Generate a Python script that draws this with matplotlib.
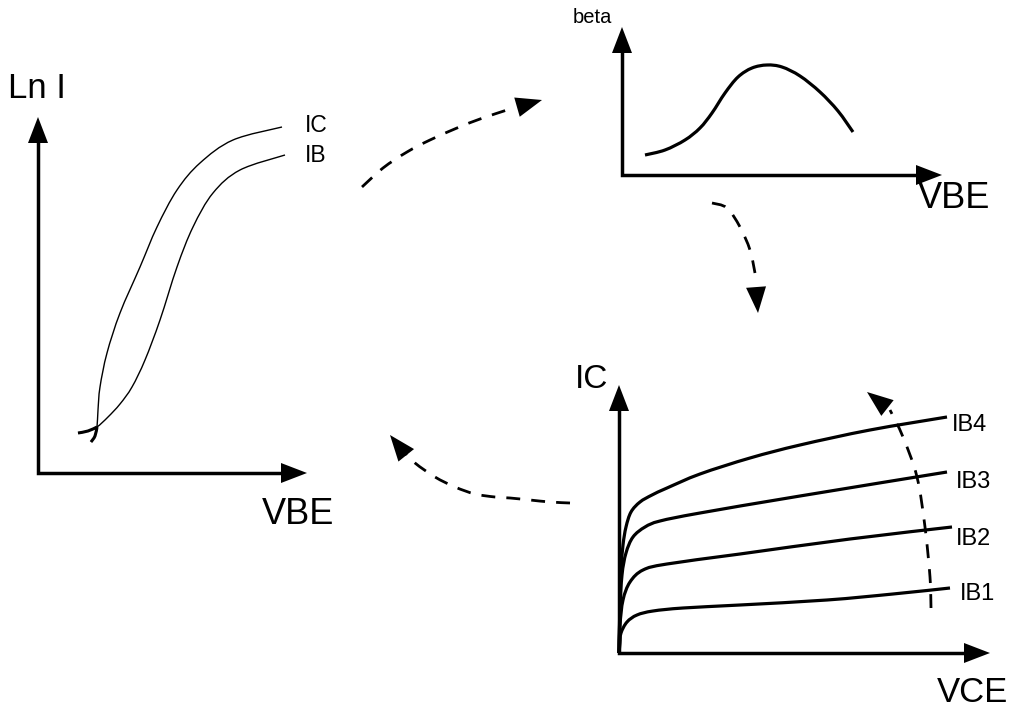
import matplotlib.pyplot as plt
import numpy as np
from matplotlib.path import Path
from matplotlib.patches import PathPatch, Polygon

# --- DATA (picture pixel coordinates, y grows downwards) ---
# left panel: Ln I vs VBE
LN_IC_X = [91, 95, 97, 98, 100, 107, 120, 140, 157, 177, 200, 233, 282]
LN_IC_Y = [442, 436, 427, 410, 387, 353, 313, 267, 227, 190, 163, 140, 127]
LN_IB_X = [78, 88, 97, 108, 120, 132, 145, 160, 177, 193, 213, 240, 285]
LN_IB_Y = [433, 431, 427, 417, 404, 387, 360, 320, 267, 227, 193, 170, 155]

# top-right panel: beta vs VBE
BETA_X = [645, 665, 685, 700, 712, 725, 738, 752, 767, 782, 800, 820, 838, 853]
BETA_Y = [155, 150, 140, 128, 113, 93, 77, 68, 65, 67, 76, 92, 111, 132]

# bottom-right panel: IC vs VCE, one curve per base current
VCE_X = {
    "IB1": [619, 620, 621, 627, 637, 653, 683, 740, 827, 893, 950],
    "IB2": [619, 620, 623, 630, 643, 667, 740, 850, 952],
    "IB3": [619, 620, 622, 626, 633, 645, 660, 700, 800, 947],
    "IB4": [619, 620, 621, 623, 626, 631, 640, 652, 667, 700, 750, 800, 870,
            947],
}
VCE_Y = {
    "IB1": [653, 643, 633, 622, 615, 611, 608, 605, 600, 594, 588],
    "IB2": [653, 625, 600, 582, 570, 564, 554, 539, 527],
    "IB3": [653, 610, 575, 553, 537, 527, 521, 513, 496, 472],
    "IB4": [653, 600, 570, 545, 527, 512, 502, 495, 488, 474, 458, 445, 430,
            417],
}
IB_LABELS = ["IB4", "IB3", "IB2", "IB1"]
IB_LABEL_X = [952, 956, 956, 960]
IB_LABEL_Y = [431, 488, 545, 600]

# dashed flow arrows (start ... tip)
FLOW_1_X = [362, 383, 407, 430, 457, 480, 507, 542]
FLOW_1_Y = [187, 168, 152, 140, 128, 119, 110, 100]
FLOW_2_X = [712, 727, 740, 750, 755, 758]
FLOW_2_Y = [203, 208, 227, 250, 273, 313]
FLOW_3_X = [570, 550, 530, 510, 495, 475, 455, 435, 415, 402, 390]
FLOW_3_Y = [503, 502, 500, 498, 497, 494, 487, 477, 463, 450, 435]
FLOW_4_X = [931, 930, 925, 917, 903, 890, 867]
FLOW_4_Y = [608, 577, 527, 477, 437, 410, 392]

# axes: (origin x, origin y, y-tip, x-tip)
AXES = [(38, 473, 117, 307), (622, 175, 27, 942), (619, 653, 385, 990)]


def smooth_path(xs, ys):
    # Catmull-Rom through the points, as cubic bezier segments
    p = np.column_stack([xs, ys]).astype(float)
    verts = [p[0]]
    codes = [Path.MOVETO]
    for i in range(len(p) - 1):
        p0 = p[i - 1] if i > 0 else p[i]
        p3 = p[i + 2] if i + 2 < len(p) else p[i + 1]
        c1 = p[i] + (p[i + 1] - p0) / 6
        c2 = p[i + 1] - (p3 - p[i]) / 6
        verts += [c1, c2, p[i + 1]]
        codes += [Path.CURVE4] * 3
    return Path(verts, codes)


def head(ax, tip, frm, length=26, half=10):
    tip = np.array(tip, float)
    d = tip - np.array(frm, float)
    d /= np.hypot(*d)
    n = np.array([-d[1], d[0]])
    base = tip - d * length
    ax.add_patch(Polygon([tip, base + n * half, base - n * half],
                         closed=True, color='black', lw=0))


fig = plt.figure(figsize=(10.18, 7.10), dpi=100)
ax = fig.add_axes([0, 0, 1, 1])
ax.set_xlim(0, 1018)
ax.set_ylim(710, 0)
ax.axis('off')

# axes with arrow heads
for ox, oy, ytip, xtip in AXES:
    ax.plot([ox, ox, xtip - 20], [ytip + 20, oy, oy], color='black', lw=2.5,
            solid_joinstyle='miter')
    head(ax, (ox, ytip), (ox, oy))
    head(ax, (xtip, oy), (ox, oy))

# left curves (thin, with a heavier hook at the start)
for cx, cy in [(LN_IC_X, LN_IC_Y), (LN_IB_X, LN_IB_Y)]:
    ax.add_patch(PathPatch(smooth_path(cx, cy), fill=False, lw=1.0))
    ax.add_patch(PathPatch(smooth_path(cx[:3], cy[:3]), fill=False, lw=2.2,
                           capstyle='butt'))

# beta curve
ax.add_patch(PathPatch(smooth_path(BETA_X, BETA_Y), fill=False, lw=2.3))

# output characteristics
for k in VCE_X:
    ax.add_patch(PathPatch(smooth_path(VCE_X[k], VCE_Y[k]), fill=False, lw=2.3))

# dashed flow arrows
for fx, fy in [(FLOW_1_X, FLOW_1_Y), (FLOW_2_X, FLOW_2_Y),
               (FLOW_3_X, FLOW_3_Y), (FLOW_4_X, FLOW_4_Y)]:
    ax.add_patch(PathPatch(smooth_path(fx[:-1], fy[:-1]), fill=False, lw=2.0,
                           linestyle=(0, (5, 4))))
    head(ax, (fx[-1], fy[-1]), (fx[-2], fy[-2]), length=26, half=10)

# text
font = 'Liberation Sans'
ax.text(8, 98, 'Ln I', fontsize=25, family=font, va='baseline')
ax.text(305, 132, 'IC', fontsize=16.5, family=font, va='baseline')
ax.text(305, 162, 'IB', fontsize=16.5, family=font, va='baseline')
ax.text(262, 524, 'VBE', fontsize=26, family=font, va='baseline')
ax.text(573, 23, 'beta', fontsize=14.5, family=font, va='baseline')
ax.text(918, 208, 'VBE', fontsize=26, family=font, va='baseline')
ax.text(575, 388, 'IC', fontsize=24, family=font, va='baseline')
ax.text(937, 702, 'VCE', fontsize=25, family=font, va='baseline')

for lab, lx, ly in zip(IB_LABELS, IB_LABEL_X, IB_LABEL_Y):
    ax.text(lx, ly, lab, fontsize=17, family=font, va='baseline')

fig.savefig('out.png', dpi=100)
